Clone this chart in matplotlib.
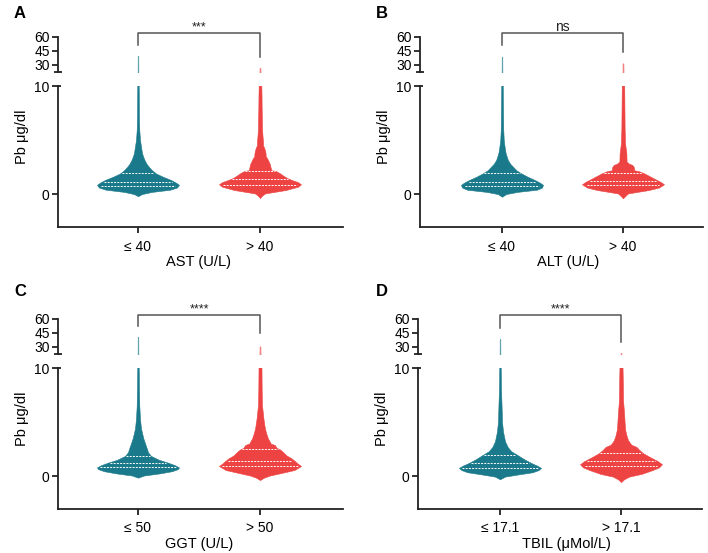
import numpy as np
import matplotlib
matplotlib.use("Agg")
import matplotlib.pyplot as plt

plt.rcParams['font.family'] = ['Liberation Sans', 'DejaVu Sans']

# ---------------- data ----------------
panel_letters = ["A", "B", "C", "D"]
x_titles = ["AST (U/L)", "ALT (U/L)", "GGT (U/L)", "TBIL (μMol/L)"]
group_labels = [["≤ 40", "> 40"], ["≤ 40", "> 40"], ["≤ 50", "> 50"], ["≤ 17.1", "> 17.1"]]
significance = ["***", "ns", "****", "****"]
y_label = "Pb μg/dl"
upper_ticks = [30, 45, 60]
lower_ticks = [0, 10]
bracket_ends = [[51, 39], [51, 44], [52, 44.5], [50, 35]]

# violin profiles: Pb level (µg/dl) and relative density (half width)
ast_low_pb = [-0.2, 0.0, 0.2, 0.4, 0.6, 0.85, 1.05, 1.3, 1.6, 1.9, 2.2, 2.5, 2.8, 3.15, 3.5, 3.8, 4.4, 5.0, 5.9, 7.0, 10, 20, 40]
ast_low_dens = [0, 4, 14, 32, 39, 41, 38, 33, 25, 18, 14, 11, 8.5, 6.5, 5, 4, 3, 2, 1.3, 1, 0.7, 0.5, 0.4]
ast_high_pb = [-0.37, -0.15, 0.06, 0.2, 0.37, 0.55, 0.68, 0.9, 1.1, 1.3, 1.5, 1.75, 1.95, 2.15, 2.2, 2.6, 2.8, 3.0, 3.3, 3.5, 3.7, 4.0, 4.3, 4.5, 4.8, 5.3, 6, 7, 8, 9, 10, 15, 27]
ast_high_dens = [0, 2, 5, 14, 25, 32, 37, 40, 37, 31, 26, 22, 19, 15, 11, 10, 9.5, 8.5, 7, 5.5, 5.5, 5, 4, 3, 3, 2.5, 2, 1.8, 1.6, 1.5, 1.3, 0.8, 0.5]
ast_low_q = [0.74, 1.1, 1.94]
ast_high_q = [0.83, 1.36, 2.1]

alt_low_pb = [-0.25, 0.0, 0.2, 0.4, 0.6, 0.85, 1.05, 1.3, 1.6, 1.9, 2.2, 2.5, 2.8, 3.15, 3.5, 3.8, 4.4, 5.0, 6, 7.5, 10, 20, 39]
alt_low_dens = [0, 4, 15, 34, 39, 40, 37, 32, 25, 19, 14, 11, 8, 5.7, 4.5, 3.5, 2.5, 1.7, 1.2, 1, 0.7, 0.5, 0.4]
alt_high_pb = [-0.4, -0.1, 0.06, 0.2, 0.37, 0.6, 0.9, 1.1, 1.3, 1.6, 1.9, 2.1, 2.2, 2.5, 2.7, 2.8, 3.0, 3.77, 4.7, 6, 8, 10, 20, 31.8]
alt_high_dens = [0, 3, 5, 14, 25, 35, 40, 37, 33, 27, 21, 16, 11, 10.5, 9, 6, 3.5, 3.3, 2, 1.6, 1.4, 1.2, 0.6, 0.5]
alt_low_q = [0.75, 1.15, 1.92]
alt_high_q = [0.8, 1.2, 1.92]

ggt_low_pb = [-0.15, 0.05, 0.25, 0.45, 0.65, 0.8, 1.0, 1.24, 1.5, 1.86, 2.2, 2.5, 2.9, 3.5, 4.4, 5.3, 6.5, 8, 10, 20, 41]
ggt_low_dens = [0, 6, 22, 34, 40, 41, 37, 30, 21, 13, 10, 9, 7.5, 5.3, 3, 2, 1.3, 1, 0.7, 0.5, 0.4]
ggt_high_pb = [-0.37, -0.15, 0.05, 0.25, 0.56, 0.93, 1.18, 1.42, 1.64, 1.9, 2.26, 2.48, 2.6, 2.88, 3.0, 3.5, 3.9, 4.4, 5.3, 6.6, 8, 10, 20, 30.7]
ggt_high_dens = [0, 4, 10, 20, 35, 41.7, 38, 35, 32, 27, 23, 20, 17, 15, 11, 8, 6.5, 5, 3.5, 2, 1.7, 1.5, 0.7, 0.5]
ggt_low_q = [0.8, 1.24, 1.86]
ggt_high_q = [0.93, 1.42, 2.48]

tbil_low_pb = [-0.3, -0.05, 0.15, 0.35, 0.55, 0.75, 0.95, 1.2, 1.55, 1.93, 2.3, 2.7, 3.2, 4.1, 5.0, 6.6, 8, 10, 20, 38.8]
tbil_low_dens = [0, 5, 18, 32, 38, 40.5, 37, 31, 24, 17.5, 11, 7.5, 5, 3, 2, 1.5, 1, 0.7, 0.5, 0.4]
tbil_high_pb = [-0.56, -0.3, -0.05, 0.2, 0.53, 0.8, 1.09, 1.37, 1.77, 2.09, 2.4, 2.7, 2.9, 3.3, 3.7, 4.3, 5.0, 5.8, 7, 8.5, 10, 15, 23.6]
tbil_high_dens = [0, 3, 8, 20, 30, 37, 40, 36, 28, 22, 18, 15, 10, 7, 5.5, 4, 3.5, 3, 2, 1.8, 1.5, 0.8, 0.5]
tbil_low_q = [0.75, 1.2, 1.93]
tbil_high_q = [0.9, 1.37, 2.09]

panels_data = [
    [(ast_low_pb, ast_low_dens, ast_low_q), (ast_high_pb, ast_high_dens, ast_high_q)],
    [(alt_low_pb, alt_low_dens, alt_low_q), (alt_high_pb, alt_high_dens, alt_high_q)],
    [(ggt_low_pb, ggt_low_dens, ggt_low_q), (ggt_high_pb, ggt_high_dens, ggt_high_q)],
    [(tbil_low_pb, tbil_low_dens, tbil_low_q), (tbil_high_pb, tbil_high_dens, tbil_high_q)],
]

# ---------------- style / layout ----------------
W, H = 708, 553
TEAL = "#1a7a8b"
RED = "#ee4343"
AXC = "#222222"
colors = [TEAL, RED]

# pixel geometry per panel: spine x, right end, x of group 0, x of group 1, row offset
geom = [
    (58, 343, 138, 260, 0),
    (420, 703, 502, 623, 0),
    (58, 343, 138, 260, 282),
    (418, 702, 500, 621, 282),
]
TOP60, BREAK, Y10, BOTTOM = 37, 72, 86, 227
UP_LIM = (22.5, 60)
LO_LIM = (-3.05, 10)
HALF_PX = 41

fig = plt.figure(figsize=(W / 100, H / 100), dpi=100)

for i in range(4):
    spine, right, x0, x1, off = geom[i]
    ux = x1 - x0
    xlim = ((spine - x0) / ux, (right - x0) / ux)
    half = HALF_PX / ux

    ax_lo = fig.add_axes([spine / W, 1 - (BOTTOM + off) / H, (right - spine) / W, (BOTTOM - Y10) / H])
    ax_up = fig.add_axes([spine / W, 1 - (BREAK + off) / H, (right - spine) / W, (BREAK - TOP60) / H])

    for ax in (ax_lo, ax_up):
        ax.set_xlim(*xlim)
        ax.patch.set_alpha(0)
        for s in ("top", "right"):
            ax.spines[s].set_visible(False)
        for s in ("left", "bottom"):
            ax.spines[s].set_color(AXC)
            ax.spines[s].set_linewidth(1.3)
        ax.tick_params(axis="both", length=4, width=1.3, color=AXC, labelsize=10, pad=2)

    ax_lo.set_ylim(*LO_LIM)
    ax_up.set_ylim(*UP_LIM)
    ax_up.spines["bottom"].set_visible(False)
    ax_up.set_xticks([])
    ax_up.set_yticks(upper_ticks)
    ax_lo.set_yticks(lower_ticks)
    ax_lo.set_xticks([0, 1])
    ax_lo.set_xticklabels(group_labels[i])
    ax_lo.tick_params(axis="x", pad=5)

    # break marks
    bw = 4 / (right - spine)
    ax_up.plot([-bw, bw], [0, 0], transform=ax_up.transAxes, color=AXC, lw=1.3, clip_on=False, solid_capstyle="butt")
    ax_lo.plot([0, bw * 0.8], [1, 1], transform=ax_lo.transAxes, color=AXC, lw=1.3, clip_on=False, solid_capstyle="butt")

    for g, (pb, dens, q) in enumerate(panels_data[i]):
        pb = np.asarray(pb, float)
        d = np.asarray(dens, float)
        hw = d / d.max() * half
        ax_lo.fill_betweenx(pb, g - hw, g + hw, color=colors[g], lw=0.4, edgecolor=colors[g])
        ax_up.fill_betweenx(pb, g - hw, g + hw, color=colors[g], lw=0.3, edgecolor=colors[g], alpha=0.6)
        for qq in q:
            w = np.interp(qq, pb, hw) * 0.92
            ax_lo.plot([g - w, g + w], [qq, qq], color="white", lw=0.7, ls=(0, (2, 1.3)))

    # significance bracket
    bl, br = bracket_ends[i]
    ax_up.plot([0, 0, 1, 1], [bl, 64, 64, br], color="#555555", lw=1.1, clip_on=False)
    ax_up.text(0.5, 66.5, significance[i], ha="center", va="baseline",
               fontsize=10 if significance[i] == "ns" else 9, color="#222222", clip_on=False)

    # labels
    lx = spine - 36
    fig.text(lx / W, 1 - (137 + off) / H, y_label, rotation=90, ha="center", va="center", fontsize=10.5)
    xl_x = (x0 + x1) / 2 + (0 if i % 2 == 0 else 6)
    fig.text(xl_x / W, 1 - (262 + off) / H, x_titles[i], ha="center", va="center", fontsize=10.5)
    px = 20 if i % 2 == 0 else 382
    fig.text(px / W, 1 - (14 + off + (0 if i < 2 else -4)) / H, panel_letters[i], ha="center", va="center",
             fontsize=12, fontweight="bold")

fig.savefig("out.png", dpi=100)
